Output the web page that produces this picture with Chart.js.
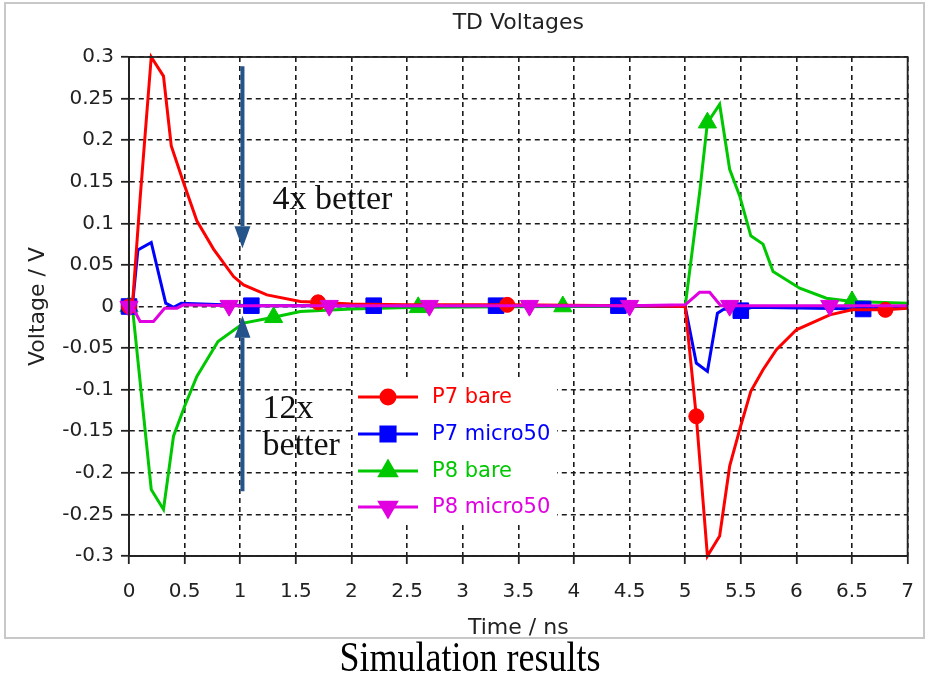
<!DOCTYPE html>
<html lang="en">
<head>
<meta charset="UTF-8">
<title>TD Voltages</title>
<script src="https://cdn.jsdelivr.net/npm/chart.js@4.4.0/dist/chart.umd.min.js"></script>
<style>
  body { margin: 0; background: #fff; }
  #wrap { width: 930px; height: 676px; }
</style>
</head>
<body>
<div id="wrap"><canvas id="myChart" width="930" height="676"></canvas></div>
<script>
// values (time in ns, voltage in V)
const p7BareT = [0, 0.03, 0.1, 0.2, 0.31, 0.38, 0.49, 0.61, 0.76, 0.94, 1.03, 1.24, 1.54, 1.7, 2.0, 2.5, 3.4, 4.5, 5.0, 5.1, 5.2, 5.31, 5.4, 5.49, 5.59, 5.7, 5.82, 6.0, 6.3, 6.5, 6.8, 7.0];
const p7BareV = [0, 0, 0.13, 0.30, 0.277, 0.193, 0.149, 0.103, 0.069, 0.036, 0.026, 0.014, 0.006, 0.005, 0.003, 0.002, 0.002, 0.001, 0, -0.132, -0.30, -0.276, -0.192, -0.148, -0.102, -0.076, -0.052, -0.028, -0.010, -0.004, -0.004, -0.002];
const p7BareMarks = [0, 1.7, 3.4, 5.1, 6.8];

const p7MicroT = [0, 0.03, 0.08, 0.2, 0.28, 0.33, 0.4, 0.47, 1.1, 2.2, 3.3, 4.4, 5.0, 5.1, 5.2, 5.29, 5.35, 5.5, 5.6, 6.6, 7.0];
const p7MicroV = [0, 0, 0.068, 0.077, 0.032, 0.004, -0.001, 0.004, 0.001, 0.001, 0.001, 0.001, 0, -0.068, -0.078, -0.008, -0.003, -0.005, -0.001, -0.003, -0.001];
const p7MicroMarks = [0, 1.1, 2.2, 3.3, 4.4, 5.5, 6.6];

const p8BareT = [0, 0.03, 0.2, 0.31, 0.4, 0.5, 0.61, 0.8, 1.03, 1.3, 1.54, 2.0, 2.6, 3.9, 5.0, 5.13, 5.2, 5.31, 5.4, 5.49, 5.59, 5.7, 5.79, 6.03, 6.27, 6.5, 7.0];
const p8BareV = [0, 0, -0.22, -0.244, -0.156, -0.12, -0.084, -0.042, -0.02, -0.013, -0.006, -0.003, -0.001, 0, 0, 0.137, 0.221, 0.243, 0.165, 0.133, 0.085, 0.075, 0.042, 0.022, 0.010, 0.006, 0.004];
const p8BareMarks = [0, 1.3, 2.6, 3.9, 5.2, 6.5];

const p8MicroT = [0, 0.03, 0.1, 0.22, 0.32, 0.43, 0.49, 0.9, 1.8, 2.7, 3.6, 4.5, 5.0, 5.13, 5.22, 5.32, 5.4, 6.3, 7.0];
const p8MicroV = [0, 0, -0.018, -0.018, -0.002, -0.002, 0.002, 0.001, 0.001, 0.001, 0.001, 0.001, 0.002, 0.017, 0.017, 0.001, 0.001, 0.001, 0.001];
const p8MicroMarks = [0, 0.9, 1.8, 2.7, 3.6, 4.5, 5.4, 6.3];

const xTicks = [0, 0.5, 1, 1.5, 2, 2.5, 3, 3.5, 4, 4.5, 5, 5.5, 6, 6.5, 7];

const sans = '"DejaVu Sans", sans-serif';
const serif = '"Liberation Serif", "Times New Roman", serif';

function pts(t, v) {
  return t.map((x, i) => ({ x: x, y: v[i] }));
}

function series(label, t, v, marks, color, style, rot, r, order) {
  return {
    label: label,
    data: pts(t, v),
    borderColor: color,
    backgroundColor: color,
    borderWidth: 3,
    pointStyle: style,
    rotation: rot,
    pointBorderWidth: 1,
    pointRadius: (c) => (c.raw && marks.includes(c.raw.x)) ? r : 0,
    pointHoverRadius: (c) => (c.raw && marks.includes(c.raw.x)) ? r : 0,
    tension: 0,
    clip: 12,
    order: order
  };
}

const datasets = [
  series('P7 bare', p7BareT, p7BareV, p7BareMarks, '#ff0000', 'circle', 0, 7.5, 1),
  series('P7 micro50', p7MicroT, p7MicroV, p7MicroMarks, '#0000ff', 'rect', 0, 11, 2),
  series('P8 bare', p8BareT, p8BareV, p8BareMarks, '#00c800', 'triangle', 0, 10.5, 3),
  series('P8 micro50', p8MicroT, p8MicroV, p8MicroMarks, '#e000e0', 'triangle', 180, 10.5, 0)
];

function arrow(ctx, x, y0, y1) {
  // shaft from y0 to tip at y1
  const dir = y1 > y0 ? 1 : -1;
  const head = 22;
  ctx.beginPath();
  ctx.moveTo(x, y0);
  ctx.lineTo(x, y1 - dir * head);
  ctx.stroke();
  ctx.beginPath();
  ctx.moveTo(x, y1);
  ctx.lineTo(x - 8, y1 - dir * head);
  ctx.lineTo(x + 8, y1 - dir * head);
  ctx.closePath();
  ctx.fill();
}

const decor = {
  id: 'decor',
  beforeDraw(chart) {
    const ctx = chart.ctx;
    ctx.save();
    ctx.fillStyle = '#fff';
    ctx.fillRect(0, 0, chart.width, chart.height);
    ctx.strokeStyle = '#c8c8c8';
    ctx.lineWidth = 2;
    ctx.strokeRect(5, 3, 919, 635);
    ctx.restore();
  },
  afterDatasetsDraw(chart) {
    // legend box, white behind it like the original
    const ctx = chart.ctx;
    ctx.save();
    ctx.fillStyle = '#fff';
    ctx.fillRect(354, 377, 203, 148);
    const rows = [397, 434, 471, 507];
    ctx.font = '21px ' + sans;
    ctx.textBaseline = 'middle';
    ctx.textAlign = 'left';
    datasets.forEach((d, i) => {
      const y = rows[i];
      ctx.strokeStyle = d.borderColor;
      ctx.fillStyle = d.borderColor;
      ctx.lineWidth = 3;
      ctx.beginPath();
      ctx.moveTo(358, y);
      ctx.lineTo(418, y);
      ctx.stroke();
      const r = d.pointStyle === 'circle' ? 7 : (d.pointStyle === 'rect' ? 10 : 9.5);
      Chart.helpers.drawPoint(ctx, { pointStyle: d.pointStyle, rotation: d.rotation, radius: r, borderWidth: 1 }, 388, y);
      ctx.fillStyle = d.borderColor;
      ctx.fillText(d.label, 432, y + 1);
    });
    ctx.restore();
  },
  afterDraw(chart) {
    const ctx = chart.ctx;
    const a = chart.chartArea;
    const xs = chart.scales.x, ys = chart.scales.y;
    ctx.save();

    // solid frame round the plot
    ctx.strokeStyle = '#222';
    ctx.lineWidth = 1.8;
    ctx.strokeRect(a.left, a.top, a.right - a.left, a.bottom - a.top);

    // titles
    ctx.fillStyle = '#222';
    ctx.textAlign = 'center';
    ctx.textBaseline = 'middle';
    ctx.font = '22px ' + sans;
    ctx.fillText('TD Voltages', (a.left + a.right) / 2, 23);
    ctx.fillText('Time / ns', (a.left + a.right) / 2, 628);
    ctx.save();
    ctx.translate(38, (a.top + a.bottom) / 2);
    ctx.rotate(-Math.PI / 2);
    ctx.fillText('Voltage / V', 0, 0);
    ctx.restore();

    ctx.fillStyle = '#000';
    ctx.save();
    ctx.translate(470, 660);
    ctx.scale(1, 1.15);
    ctx.font = '36px ' + serif;
    ctx.fillText('Simulation results', 0, 0);
    ctx.restore();

    // arrows and notes
    const ax = xs.getPixelForValue(1.02);
    ctx.strokeStyle = '#24548a';
    ctx.fillStyle = '#24548a';
    ctx.lineWidth = 4;
    arrow(ctx, ax, ys.getPixelForValue(0.289), ys.getPixelForValue(0.07));
    arrow(ctx, ax, ys.getPixelForValue(-0.222), ys.getPixelForValue(-0.011));

    ctx.fillStyle = '#111';
    ctx.textAlign = 'left';
    ctx.textBaseline = 'alphabetic';
    ctx.font = '34px ' + serif;
    ctx.fillText('4x better', xs.getPixelForValue(1.29), ys.getPixelForValue(0.117));
    ctx.fillText('12x', xs.getPixelForValue(1.2), ys.getPixelForValue(-0.134));
    ctx.fillText('better', xs.getPixelForValue(1.2), ys.getPixelForValue(-0.179));
    ctx.restore();
  }
};

new Chart(document.getElementById('myChart'), {
  type: 'line',
  data: { datasets: datasets },
  options: {
    responsive: false,
    animation: false,
    events: [],
    layout: { padding: { left: 0, right: 22, top: 57, bottom: 40 } },
    plugins: {
      legend: { display: false },
      title: { display: false },
      tooltip: { enabled: false }
    },
    scales: {
      x: {
        type: 'linear',
        min: 0,
        max: 7,
        afterFit: (s) => { s.height = 80; },
        afterBuildTicks: (s) => { s.ticks = xTicks.map(v => ({ value: v })); },
        ticks: {
          autoSkip: false,
          maxRotation: 0,
          padding: 16,
          color: '#222',
          font: { family: sans, size: 20 },
          callback: (v) => String(Math.round(v * 10) / 10)
        },
        grid: { color: '#1a1a1a', lineWidth: 1.6, tickLength: 8, tickColor: '#222', tickWidth: 1.8 },
        border: { display: true, color: '#222', width: 1.8, dash: [5, 4] }
      },
      y: {
        min: -0.3,
        max: 0.3,
        afterFit: (s) => { s.width = 129; },
        ticks: {
          stepSize: 0.05,
          padding: 7,
          color: '#222',
          font: { family: sans, size: 20 },
          callback: (v) => String(Math.round(v * 100) / 100)
        },
        grid: { color: '#1a1a1a', lineWidth: 1.6, tickLength: 8, tickColor: '#222', tickWidth: 1.8 },
        border: { display: true, color: '#222', width: 1.8, dash: [5, 4] }
      }
    }
  },
  plugins: [decor]
});
</script>
</body>
</html>
